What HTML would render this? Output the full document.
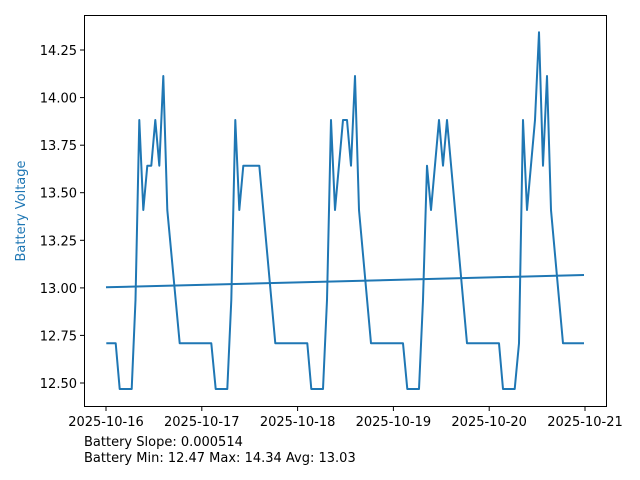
<!DOCTYPE html>
<html><head><meta charset="utf-8"><style>body{margin:0;background:#fff}svg{display:block}text{font-family:"DejaVu Sans","Liberation Sans",sans-serif}</style></head><body>
<svg width="640" height="480" viewBox="0 0 640 480" xmlns="http://www.w3.org/2000/svg">
<rect width="640" height="480" fill="#fff"/>
<g stroke="#1f77b4" stroke-width="2" fill="none" stroke-linejoin="round">
<polyline points="106.3,343.3 115.7,343.3 119.7,389 131.7,389 135.5,300 139.3,120 143.3,210 147.3,165.7 151.3,165.7 155.3,120 159.3,165.7 163.3,76 167.3,210 179.7,343.3 211.3,343.3 215.7,389 227.3,389 231.3,300 235.3,120 239.3,210 243.3,165.7 259.3,165.7 275.3,343.3 307.3,343.3 311.3,389 323,389 327,300 331,120 335,210 343,120 347,120 351,165.7 355,76 359,210 371,343.3 403,343.3 407.3,389 419,389 423,300 427,165.7 431,210 439,120 443,165.7 447,120 467,343.3 499,343.3 503,389 514.7,389 519,343.3 523,120 527,210 535,120 539,32.3 543,165.7 547,76 551,210 563,343.3 584,343.3"/>
<line x1="106" y1="287.3" x2="584" y2="275"/>
</g>
<rect x="84.5" y="15.5" width="522" height="391" fill="none" stroke="#000" stroke-width="1"/>
<g stroke="#000" stroke-width="1">
<line x1="80" x2="84" y1="383" y2="383"/><line x1="80" x2="84" y1="335.4" y2="335.4"/><line x1="80" x2="84" y1="287.9" y2="287.9"/><line x1="80" x2="84" y1="240.3" y2="240.3"/><line x1="80" x2="84" y1="192.7" y2="192.7"/><line x1="80" x2="84" y1="145.2" y2="145.2"/><line x1="80" x2="84" y1="97.6" y2="97.6"/><line x1="80" x2="84" y1="50" y2="50"/>
<line x1="106" x2="106" y1="407" y2="411"/><line x1="201.8" x2="201.8" y1="407" y2="411"/><line x1="297.6" x2="297.6" y1="407" y2="411"/><line x1="393.4" x2="393.4" y1="407" y2="411"/><line x1="489.2" x2="489.2" y1="407" y2="411"/><line x1="585" x2="585" y1="407" y2="411"/>
</g>
<g font-size="13" fill="#000" text-anchor="end">
<text x="77" y="388">12.50</text><text x="77" y="340.4">12.75</text><text x="77" y="292.9">13.00</text><text x="77" y="245.3">13.25</text><text x="77" y="197.7">13.50</text><text x="77" y="150.2">13.75</text><text x="77" y="102.6">14.00</text><text x="77" y="55">14.25</text>
</g>
<g font-size="13" fill="#000" text-anchor="middle">
<text x="106" y="426">2025-10-16</text><text x="201.8" y="426">2025-10-17</text><text x="297.6" y="426">2025-10-18</text><text x="393.4" y="426">2025-10-19</text><text x="489.2" y="426">2025-10-20</text><text x="585" y="426">2025-10-21</text>
</g>
<text transform="translate(25,211) rotate(-90)" font-size="13" fill="#1f77b4" text-anchor="middle">Battery Voltage</text>
<text x="84" y="446" font-size="13">Battery Slope: 0.000514</text>
<text x="84" y="462" font-size="13">Battery Min: 12.47 Max: 14.34 Avg: 13.03</text>
</svg>
</body></html>
